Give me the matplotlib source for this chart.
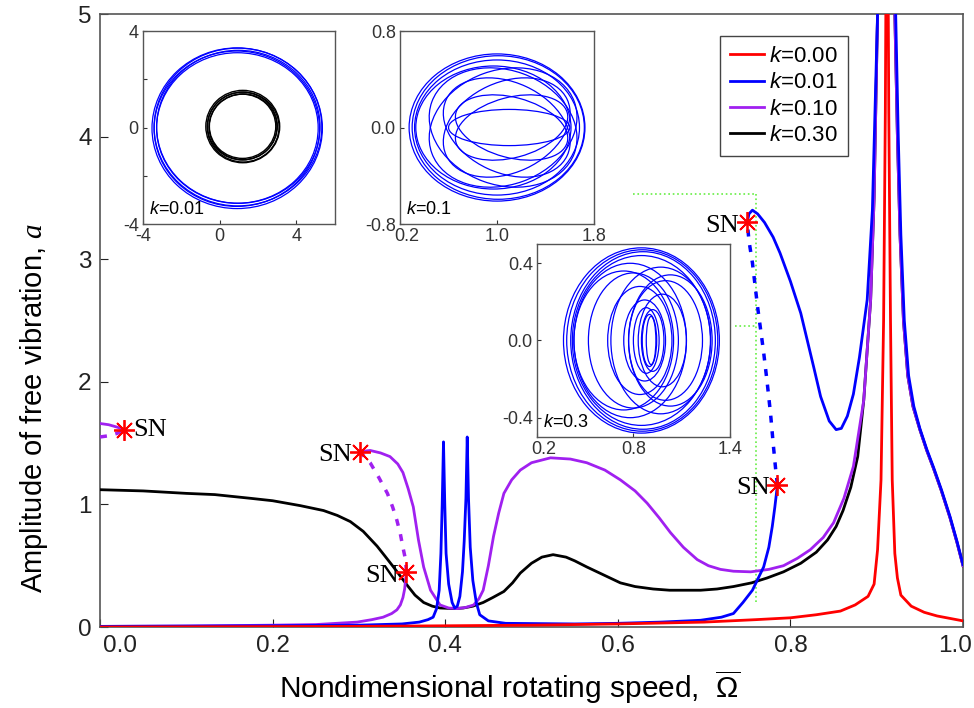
import numpy as np
import matplotlib
matplotlib.use('Agg')
import matplotlib.pyplot as plt
import matplotlib.transforms as mtrans
from matplotlib.patches import Ellipse

plt.rcParams['font.family'] = ['Liberation Sans', 'DejaVu Sans']
plt.rcParams['mathtext.fontset'] = 'custom'
plt.rcParams['mathtext.rm'] = 'Liberation Sans'
plt.rcParams['mathtext.it'] = 'Liberation Sans:italic'
plt.rcParams['mathtext.cal'] = 'Liberation Serif:italic'

# ---- k = 0.00 (red)
red_x = [0.0, 0.3, 0.5, 0.6, 0.7, 0.76, 0.8, 0.83, 0.858, 0.875, 0.89, 0.897, 0.901, 0.905,
         0.908, 0.910, 0.912, 0.914, 0.916, 0.918, 0.921, 0.924, 0.928, 0.94, 0.955, 0.97, 1.0]
red_y = [0.0, 0.005, 0.015, 0.025, 0.04, 0.06, 0.075, 0.1, 0.13, 0.18, 0.25, 0.35, 0.63, 1.2,
         2.5, 4.2, 7.0, 4.2, 2.5, 1.2, 0.6, 0.4, 0.26, 0.17, 0.12, 0.09, 0.05]

# ---- k = 0.01 (blue), stable lower branch
blue_lo_x = [0.0, 0.2, 0.3, 0.35, 0.37, 0.38, 0.386, 0.39, 0.393, 0.395, 0.3965, 0.398, 0.3995,
             0.401, 0.404, 0.408, 0.411, 0.414, 0.417, 0.42, 0.422, 0.424, 0.4255, 0.427, 0.429,
             0.432, 0.436, 0.44, 0.45, 0.47, 0.55, 0.6, 0.65, 0.696, 0.72, 0.734, 0.745, 0.756,
             0.769, 0.775, 0.779, 0.782, 0.785]
blue_lo_y = [0.005, 0.01, 0.015, 0.025, 0.04, 0.06, 0.08, 0.15, 0.3, 0.6, 1.0, 1.51, 1.0,
             0.6, 0.35, 0.2, 0.155, 0.17, 0.25, 0.45, 0.7, 1.05, 1.55, 1.05, 0.65,
             0.38, 0.2, 0.1, 0.05, 0.03, 0.025, 0.03, 0.04, 0.055, 0.08, 0.11, 0.2, 0.3,
             0.49, 0.65, 0.82, 0.98, 1.16]
# unstable branch (dashed)
blue_un_x = [0.785, 0.783, 0.780, 0.777, 0.773, 0.769, 0.762, 0.756, 0.752, 0.750]
blue_un_y = [1.16, 1.28, 1.5, 1.74, 2.0, 2.24, 2.61, 2.97, 3.15, 3.30]
# upper stable branch
blue_up_x = [0.750, 0.752, 0.756, 0.762, 0.770, 0.780, 0.788, 0.800, 0.812, 0.827, 0.835, 0.845,
             0.853, 0.859, 0.866, 0.873, 0.880, 0.889, 0.895, 0.901, 0.910, 0.922, 0.925, 0.928,
             0.932, 0.937, 0.943, 0.95, 0.958, 0.966, 0.975, 0.985, 0.993, 1.0]
blue_up_y = [3.30, 3.37, 3.40, 3.37, 3.30, 3.18, 3.05, 2.82, 2.56, 2.12, 1.88, 1.68,
             1.61, 1.62, 1.72, 1.9, 2.2, 2.67, 3.4, 5.0, 8.0, 5.0, 4.0, 3.2,
             2.5, 2.05, 1.8, 1.62, 1.45, 1.30, 1.12, 0.90, 0.70, 0.51]

# ---- k = 0.10 (purple)
pur_a_x = [0.0, 0.01, 0.02, 0.028]
pur_a_y = [1.66, 1.65, 1.63, 1.61]
pur_b_x = [0.0, 0.01, 0.02, 0.028]
pur_b_y = [1.55, 1.56, 1.58, 1.61]
pur_lo_x = [0.0, 0.1, 0.2, 0.25, 0.298, 0.315, 0.328, 0.338, 0.344, 0.348, 0.351, 0.353, 0.354, 0.355]
pur_lo_y = [0.005, 0.008, 0.015, 0.02, 0.04, 0.06, 0.08, 0.11, 0.14, 0.18, 0.24, 0.31, 0.38, 0.45]
pur_un_x = [0.355, 0.354, 0.351, 0.348, 0.344, 0.339, 0.333, 0.323, 0.313, 0.301]
pur_un_y = [0.45, 0.55, 0.65, 0.76, 0.87, 0.98, 1.09, 1.22, 1.34, 1.43]
pur_up_x = [0.301, 0.313, 0.325, 0.336, 0.345, 0.351, 0.357, 0.363, 0.369, 0.375, 0.383, 0.394,
            0.404, 0.414, 0.424, 0.433, 0.439, 0.444, 0.45, 0.456, 0.462, 0.468, 0.477, 0.487,
            0.5, 0.522, 0.545, 0.564, 0.585, 0.603, 0.62, 0.634, 0.648, 0.661, 0.676, 0.692,
            0.705, 0.719, 0.734, 0.754, 0.775, 0.792, 0.808, 0.823, 0.838, 0.850, 0.862, 0.873,
            0.885, 0.893, 0.897, 0.901, 0.910, 0.921, 0.924, 0.927, 0.931, 0.936, 0.942, 0.95,
            0.958, 0.966, 0.975, 0.985, 0.993, 1.0]
pur_up_y = [1.43, 1.44, 1.42, 1.39, 1.33, 1.26, 1.13, 0.98, 0.71, 0.49, 0.30, 0.18,
            0.155, 0.15, 0.16, 0.18, 0.23, 0.30, 0.5, 0.74, 0.93, 1.09, 1.2, 1.28,
            1.34, 1.38, 1.37, 1.34, 1.28, 1.20, 1.11, 1.01, 0.89, 0.77, 0.65, 0.55,
            0.50, 0.47, 0.455, 0.45, 0.47, 0.50, 0.56, 0.63, 0.73, 0.85, 1.05, 1.31,
            1.85, 2.67, 3.5, 5.0, 8.0, 5.0, 4.0, 3.2, 2.5, 2.05, 1.8, 1.61,
            1.44, 1.29, 1.11, 0.89, 0.69, 0.5]

# ---- k = 0.30 (black)
blk_x = [0.0, 0.05, 0.1, 0.133, 0.174, 0.2, 0.232, 0.259, 0.275, 0.29, 0.305, 0.321, 0.33, 0.340,
         0.356, 0.365, 0.375, 0.385, 0.394, 0.41, 0.421, 0.432, 0.444, 0.455, 0.468, 0.478,
         0.487, 0.5, 0.512, 0.525, 0.54, 0.55, 0.564, 0.585, 0.603, 0.62, 0.641, 0.66, 0.68,
         0.696, 0.715, 0.734, 0.755, 0.773, 0.792, 0.812, 0.83, 0.843, 0.853, 0.861, 0.87,
         0.878, 0.885, 0.893, 0.897, 0.901, 0.910, 0.921, 0.924, 0.927, 0.931, 0.936, 0.942,
         0.95, 0.958, 0.966, 0.975, 0.985, 0.993, 1.0]
blk_y = [1.12, 1.11, 1.09, 1.08, 1.05, 1.03, 0.99, 0.95, 0.91, 0.86, 0.78, 0.66, 0.58, 0.49,
         0.34, 0.26, 0.20, 0.17, 0.155, 0.15, 0.155, 0.17, 0.20, 0.24, 0.29, 0.36,
         0.44, 0.52, 0.57, 0.59, 0.57, 0.54, 0.49, 0.42, 0.36, 0.33, 0.31, 0.30, 0.30,
         0.30, 0.31, 0.33, 0.36, 0.40, 0.45, 0.52, 0.61, 0.71, 0.82, 0.95, 1.14,
         1.39, 1.85, 2.67, 3.5, 5.0, 8.0, 5.0, 4.0, 3.2, 2.5, 2.05, 1.8,
         1.61, 1.44, 1.29, 1.11, 0.89, 0.69, 0.5]

# saddle-node points
sn_x = [0.028, 0.301, 0.355, 0.750, 0.785]
sn_y = [1.61, 1.43, 0.45, 3.30, 1.16]

# green guide lines
guide_h1_x = [0.618, 0.760]
guide_h1_y = [3.53, 3.53]
guide_h2_x = [0.736, 0.760]
guide_h2_y = [2.455, 2.455]
guide_v_x = [0.760, 0.760]
guide_v_y = [0.2, 3.53]

# phase portrait loops: (cx, cy, width, height, angle)
ins1_blue = [(0.91, -0.03, 8.88, 6.66, 0), (0.95, 0.02, 8.74, 6.54, 0), (0.89, -0.05, 8.62, 6.44, 0),
             (0.97, 0.03, 8.52, 6.34, 0), (0.92, -0.02, 8.42, 6.24, 0)]
ins1_black = [(1.20, 0.04, 3.85, 3.00, 0), (1.22, 0.02, 3.74, 2.90, 0), (1.18, 0.06, 3.64, 2.81, 0),
              (1.21, 0.03, 3.54, 2.73, 0), (1.19, 0.05, 3.46, 2.66, 0)]
ins2_loops = [(1.00, 0.0, 1.45, 1.22, 0), (1.01, 0.0, 1.42, 1.19, 0), (1.00, 0.0, 1.36, 1.12, 0),
              (1.05, 0.0, 1.25, 0.95, 20), (1.05, 0.0, 1.25, 0.95, -20),
              (1.08, 0.0, 1.10, 0.75, 25), (1.08, 0.0, 1.10, 0.75, -25),
              (1.12, 0.0, 0.95, 0.50, 15), (1.12, 0.0, 0.95, 0.50, -15),
              (1.10, 0.0, 1.00, 0.30, 0), (0.97, 0.0, 1.28, 1.02, 0)]
ins3_loops = [(0.85, 0.0, 0.97, 0.96, 0), (0.855, 0.0, 0.94, 0.94, 0), (0.86, 0.0, 0.90, 0.92, 0),
              (0.85, 0.0, 0.86, 0.88, 0), (0.78, 0.0, 0.70, 0.80, 0), (0.80, 0.0, 0.56, 0.70, 0),
              (0.84, 0.0, 0.40, 0.56, 0), (0.87, 0.0, 0.26, 0.42, 0), (0.97, 0.0, 0.62, 0.76, 0),
              (1.00, 0.0, 0.46, 0.62, 0), (0.98, 0.0, 0.30, 0.48, 0), (0.90, 0.0, 0.09, 0.27, 0),
              (0.91, 0.0, 0.06, 0.25, 0), (0.92, 0.0, 0.14, 0.32, 0), (0.88, 0.0, 0.16, 0.34, 0),
              (0.74, 0.0, 0.62, 0.72, 0), (1.03, 0.0, 0.52, 0.68, 0)]

RED = '#ff0000'
BLUE = '#0000ff'
PURPLE = '#a020f0'
GREEN = '#66ee44'
SPINE = '#555555'

fig = plt.figure(figsize=(9.74, 7.08), dpi=100)
ax = fig.add_axes([0.1027, 0.1144, 0.8860, 0.8658])

ax.plot(guide_h1_x, guide_h1_y, color=GREEN, ls=':', lw=1.2, zorder=1)
ax.plot(guide_h2_x, guide_h2_y, color=GREEN, ls=':', lw=1.2, zorder=1)
ax.plot(guide_v_x, guide_v_y, color=GREEN, ls=':', lw=1.2, zorder=1)

ax.plot(blk_x, blk_y, color='black', lw=2, zorder=3, label='$k$=0.30')
ax.plot(pur_up_x, pur_up_y, color=PURPLE, lw=2, zorder=4, label='$k$=0.10')
ax.plot(pur_lo_x, pur_lo_y, color=PURPLE, lw=2, zorder=4)
ax.plot(pur_a_x, pur_a_y, color=PURPLE, lw=2, zorder=4)
ax.plot(pur_un_x, pur_un_y, color=PURPLE, lw=2.5, ls=(0, (2, 2.5)), zorder=4)
ax.plot(pur_b_x, pur_b_y, color=PURPLE, lw=2.5, ls=(0, (2, 2.5)), zorder=4)
ax.plot(blue_lo_x, blue_lo_y, color=BLUE, lw=2, zorder=5, label='$k$=0.01')
ax.plot(blue_up_x, blue_up_y, color=BLUE, lw=2, zorder=5)
ax.plot(blue_un_x, blue_un_y, color=BLUE, lw=2.5, ls=(0, (2, 2.5)), zorder=5)
ax.plot(red_x, red_y, color=RED, lw=2, zorder=6, label='$k$=0.00')

ax.plot(sn_x, sn_y, ls='none', marker=(8, 2, 0), ms=15, mew=1.3, color=RED, zorder=8)
sn_font = dict(family='Liberation Serif', fontsize=19, va='center')
ax.text(sn_x[0] + 0.01, sn_y[0], 'SN', ha='left', **sn_font)
for i in range(1, 5):
    ax.text(sn_x[i] - 0.009, sn_y[i] - 0.03, 'SN', ha='right', **sn_font)

ax.set_xlim(0, 1.0)
ax.set_ylim(0, 5)
ax.set_xticks(np.arange(0, 1.01, 0.2))
ax.set_xticklabels(['0.0', '0.2', '0.4', '0.6', '0.8', '1.0'])
ax.set_yticks([0, 1, 2, 3, 4, 5])
ax.tick_params(direction='in', length=6, labelsize=17.5, colors='#222222', pad=6)
for s in ax.spines.values():
    s.set_color(SPINE)
    s.set_linewidth(1.2)

# nudge first and last x tick labels inside, as in the original
xl = ax.get_xticklabels()
xl[0].set_transform(xl[0].get_transform() + mtrans.ScaledTranslation(0.2, 0, fig.dpi_scale_trans))
xl[-1].set_transform(xl[-1].get_transform() + mtrans.ScaledTranslation(-0.08, 0, fig.dpi_scale_trans))

ax.set_xlabel(r'Nondimensional rotating speed,  $\overline{\Omega}$', fontsize=21.5)
ax.xaxis.set_label_coords(0.475, -0.068)
ax.set_ylabel(r'Amplitude of free vibration, $\mathcal{a}$', fontsize=21)
ax.yaxis.set_label_coords(-0.058, 0.358)

h, l = ax.get_legend_handles_labels()
order = [3, 2, 1, 0]
leg = ax.legend([h[i] for i in order], [l[i] for i in order], loc='upper right',
                bbox_to_anchor=(0.8667, 0.964), fontsize=16, handlelength=1.5,
                handletextpad=0.25, labelspacing=0.24, borderpad=0.45, borderaxespad=0,
                fancybox=False, framealpha=1, edgecolor='#444444')
leg.get_frame().set_linewidth(1.0)


def inset(rect, xlim, ylim, xt, yt, ylab_ticks, loops_sets, label):
    a = fig.add_axes(rect)
    for loops, col, lw in loops_sets:
        for cx, cy, w, hgt, ang in loops:
            a.add_patch(Ellipse((cx, cy), w, hgt, angle=ang, fill=False, ec=col, lw=lw))
    a.set_xlim(*xlim)
    a.set_ylim(*ylim)
    a.set_xticks(xt)
    a.set_yticks(yt)
    a.set_yticklabels(ylab_ticks)
    a.tick_params(direction='in', length=3, labelsize=13, colors='#333333', pad=3)
    for s in a.spines.values():
        s.set_color(SPINE)
        s.set_linewidth(1.0)
    a.text(0.03, 0.03, label, transform=a.transAxes, fontsize=13, ha='left', va='bottom')
    return a


def nudge_first(a, labels):
    a.set_xticklabels(labels)
    t = a.get_xticklabels()[0]
    t.set_transform(t.get_transform() + mtrans.ScaledTranslation(0.07, 0, fig.dpi_scale_trans))


a1 = inset([0.1468, 0.6836, 0.197, 0.2726], (-4, 6), (-4, 4), [-4, 0, 4],
           [-4, -2, 0, 2, 4], ['-4', '', '0', '', '4'],
           [(ins1_blue, BLUE, 0.9), (ins1_black, 'black', 1.0)], '$k$=0.01')
a1.set_xticklabels(['-4', '0', '4'])
a2 = inset([0.4107, 0.6836, 0.1992, 0.2726], (0.2, 1.8), (-0.8, 0.8), [0.2, 1.0, 1.8],
           [-0.8, 0.0, 0.8], ['-0.8', '0.0', '0.8'],
           [(ins2_loops, BLUE, 0.9)], '$k$=0.1')
nudge_first(a2, ['0.2', '1.0', '1.8'])
a3 = inset([0.5513, 0.3828, 0.198, 0.2726], (0.2, 1.4), (-0.5, 0.5), [0.2, 0.8, 1.4],
           [-0.4, 0.0, 0.4], ['-0.4', '0.0', '0.4'],
           [(ins3_loops, BLUE, 0.9)], '$k$=0.3')
nudge_first(a3, ['0.2', '0.8', '1.4'])

fig.savefig('out.png', dpi=100)
